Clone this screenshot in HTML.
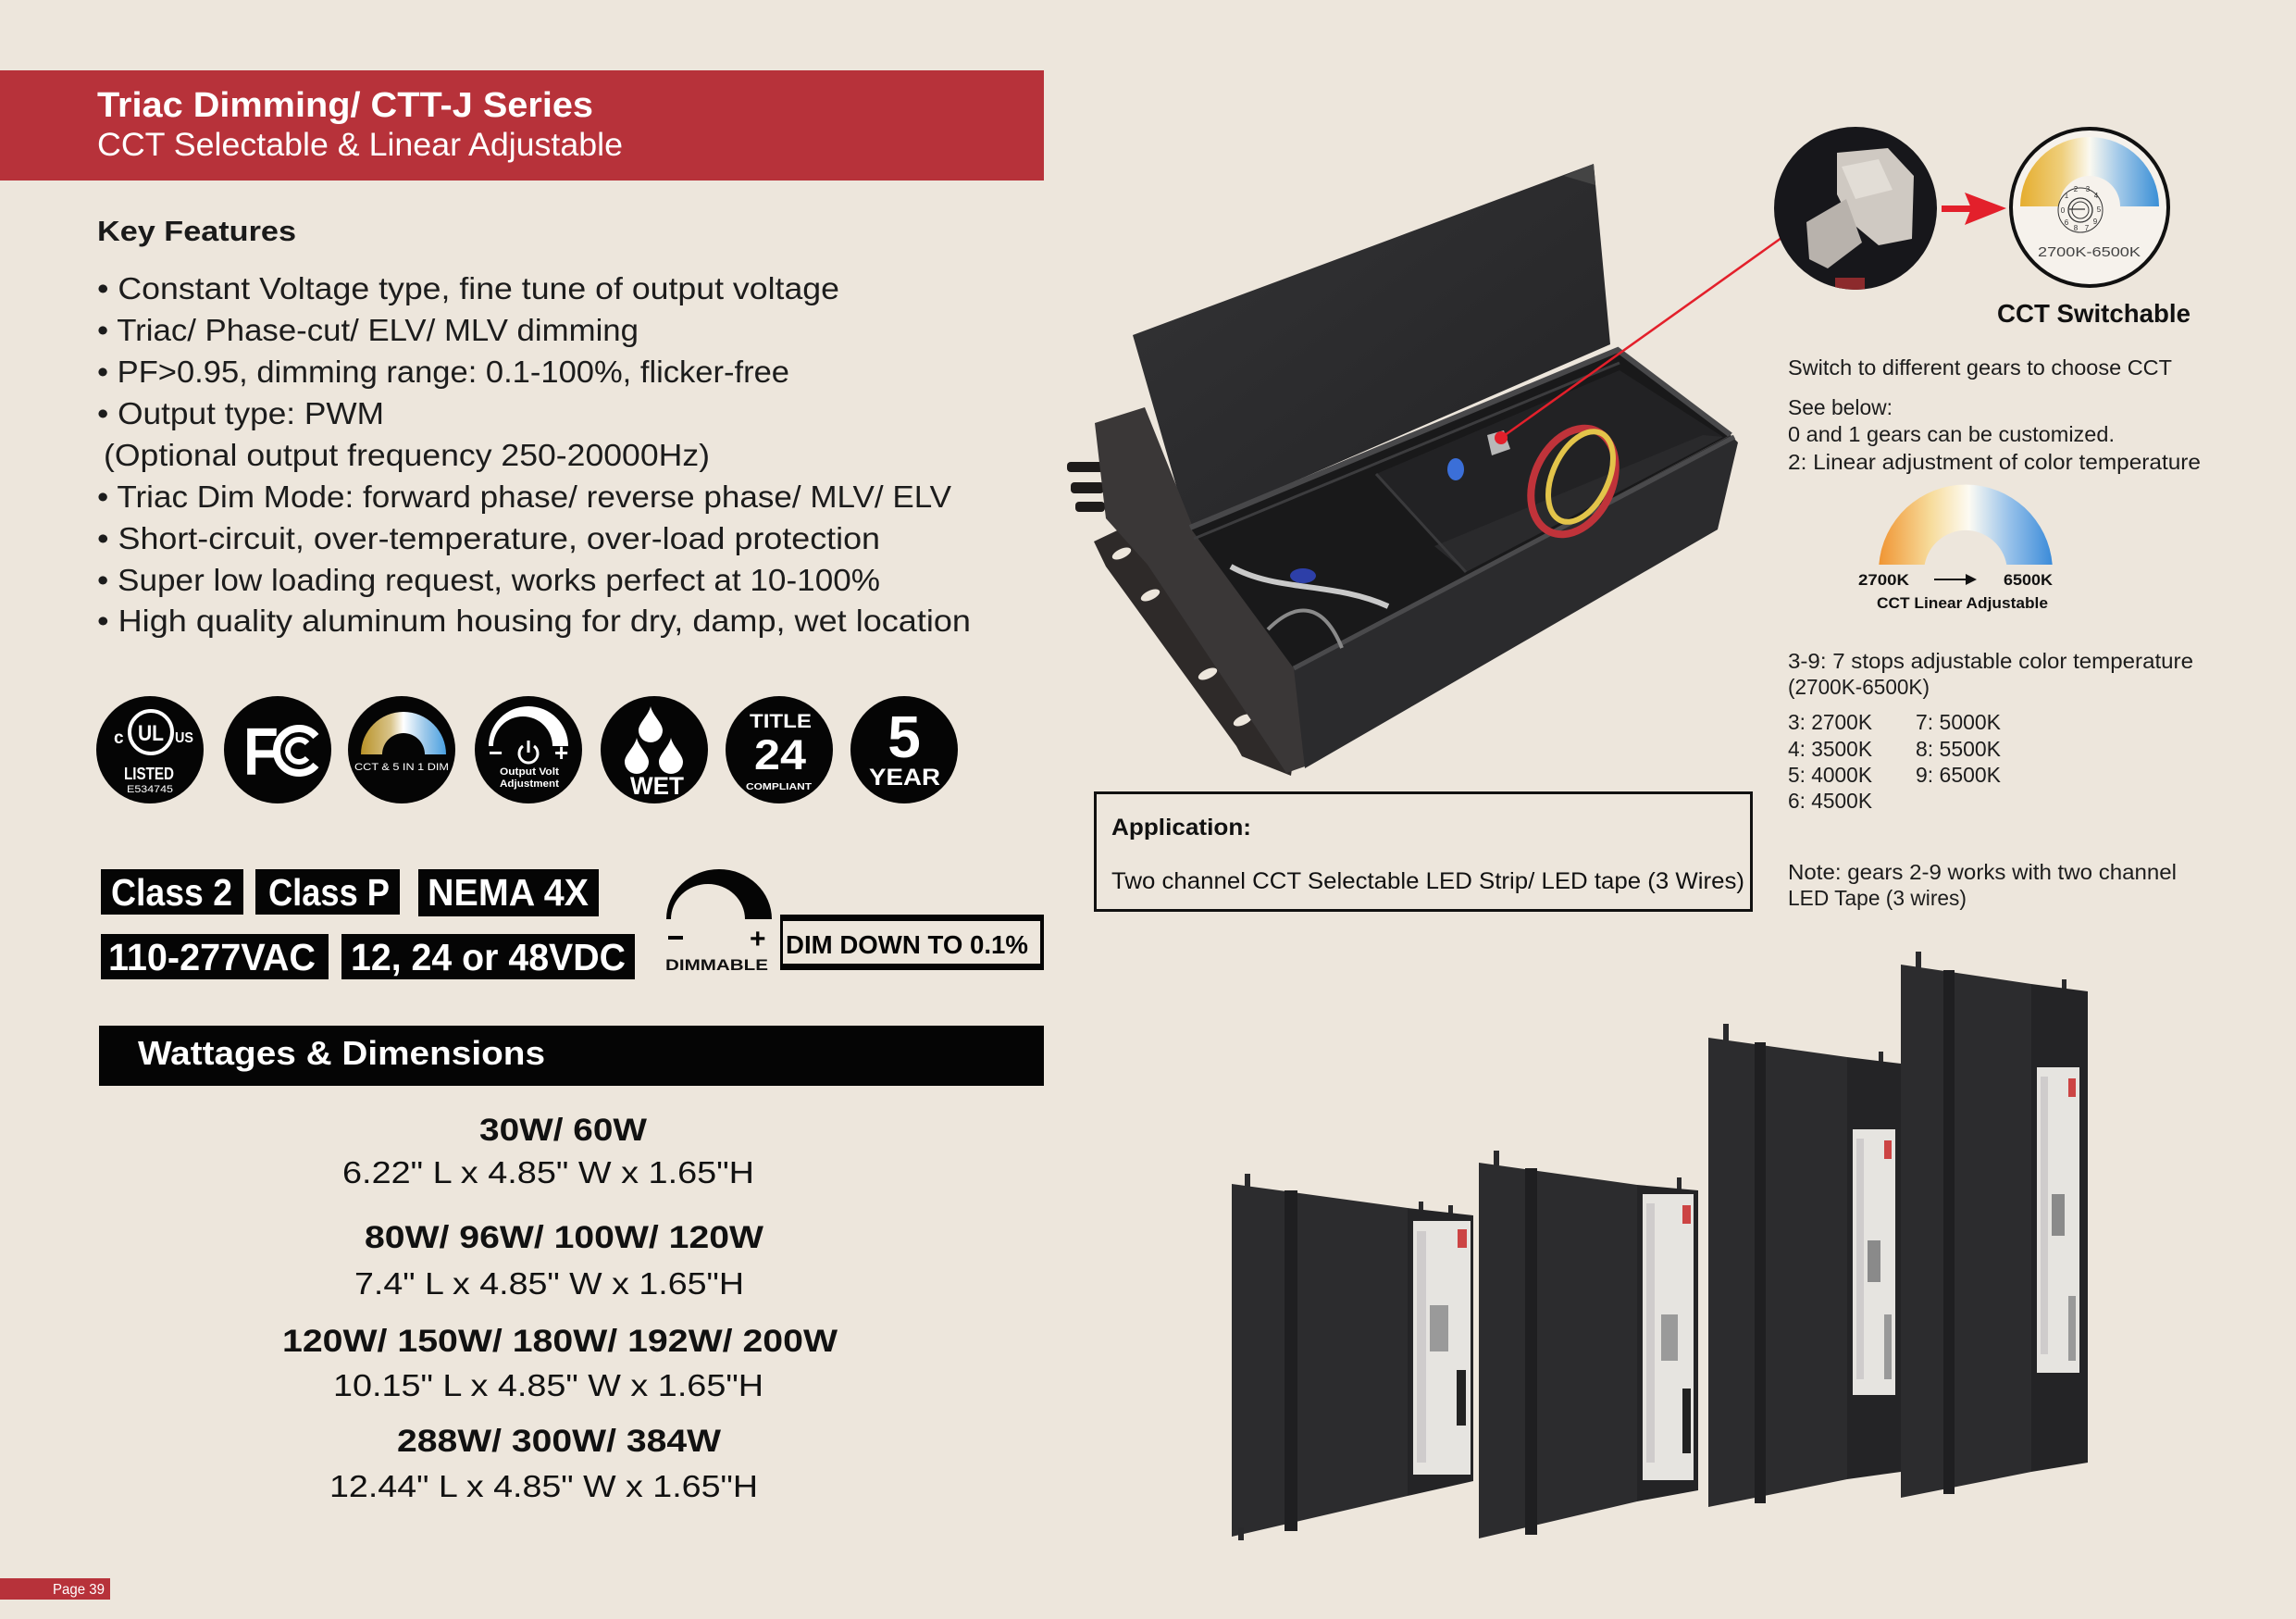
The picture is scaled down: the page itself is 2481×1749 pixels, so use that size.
<!DOCTYPE html>
<html><head><meta charset="utf-8"><style>
html,body{margin:0;padding:0;background:#ede6dc;}
svg{display:block}
text{font-family:"Liberation Sans",Arial,sans-serif;}
</style></head><body>
<svg width="2481" height="1749" viewBox="0 0 2481 1749" xmlns="http://www.w3.org/2000/svg">
<defs>
<linearGradient id="cctg" x1="0" x2="1" y1="0" y2="0">
 <stop offset="0" stop-color="#e5ad2e"/><stop offset="0.3" stop-color="#efcf7c"/><stop offset="0.5" stop-color="#fbf9f0"/><stop offset="0.7" stop-color="#a6cbe9"/><stop offset="1" stop-color="#3a8fd6"/>
</linearGradient>
<linearGradient id="cctg2" x1="0" x2="1" y1="0" y2="0">
 <stop offset="0" stop-color="#f09533"/><stop offset="0.3" stop-color="#f7dc9c"/><stop offset="0.52" stop-color="#fdfbf3"/><stop offset="0.75" stop-color="#98c2ea"/><stop offset="1" stop-color="#3b8bd9"/>
</linearGradient>
<linearGradient id="icong" x1="0" x2="1" y1="0" y2="0">
 <stop offset="0" stop-color="#b89228"/><stop offset="0.35" stop-color="#d9c48a"/><stop offset="0.5" stop-color="#ffffff"/><stop offset="0.75" stop-color="#9cc8ea"/><stop offset="1" stop-color="#4aa0e0"/>
</linearGradient>
<linearGradient id="lidg" x1="0" x2="1" y1="0" y2="1">
 <stop offset="0" stop-color="#343436"/><stop offset="1" stop-color="#232325"/>
</linearGradient>
<clipPath id="photoClip"><circle cx="2005" cy="225" r="88"/></clipPath>
</defs>
<rect width="2481" height="1749" fill="#ede6dc"/>

<!-- Header -->
<rect x="0" y="76" width="1128" height="119" fill="#b7323a"/>
<text x="105" y="126" font-size="38" font-weight="bold" fill="#fff" textLength="536" lengthAdjust="spacingAndGlyphs">Triac Dimming/ CTT-J Series</text>
<text x="105" y="168" font-size="35" fill="#fff" textLength="568" lengthAdjust="spacingAndGlyphs">CCT Selectable &amp; Linear Adjustable</text>

<!-- Key features -->
<text x="105" y="260" font-size="31" font-weight="bold" fill="#1a1a1a" textLength="215" lengthAdjust="spacingAndGlyphs">Key Features</text>
<g font-size="33" fill="#1c1c1c">
<text x="105" y="323" textLength="802" lengthAdjust="spacingAndGlyphs">• Constant Voltage type, fine tune of output voltage</text>
<text x="105" y="368" textLength="585" lengthAdjust="spacingAndGlyphs">• Triac/ Phase-cut/ ELV/ MLV dimming</text>
<text x="105" y="413" textLength="748" lengthAdjust="spacingAndGlyphs">• PF&gt;0.95, dimming range: 0.1-100%, flicker-free</text>
<text x="105" y="458" textLength="310" lengthAdjust="spacingAndGlyphs">• Output type: PWM</text>
<text x="112" y="503" textLength="655" lengthAdjust="spacingAndGlyphs">(Optional output frequency 250-20000Hz)</text>
<text x="105" y="548" textLength="923" lengthAdjust="spacingAndGlyphs">• Triac Dim Mode: forward phase/ reverse phase/ MLV/ ELV</text>
<text x="105" y="593" textLength="846" lengthAdjust="spacingAndGlyphs">• Short-circuit, over-temperature, over-load protection</text>
<text x="105" y="638" textLength="846" lengthAdjust="spacingAndGlyphs">• Super low loading request, works perfect at 10-100%</text>
<text x="105" y="682" textLength="944" lengthAdjust="spacingAndGlyphs">• High quality aluminum housing for dry, damp, wet location</text>
</g>

<!-- Icons -->
<g fill="#050505">
<circle cx="162" cy="810" r="58"/><circle cx="300" cy="810" r="58"/><circle cx="434" cy="810" r="58"/>
<circle cx="571" cy="810" r="58"/><circle cx="707" cy="810" r="58"/><circle cx="842" cy="810" r="58"/><circle cx="977" cy="810" r="58"/>
</g>
<!-- UL -->
<circle cx="163" cy="791" r="23" fill="none" stroke="#fff" stroke-width="4"/>
<text x="163" y="800" font-size="24" font-weight="bold" fill="#fff" text-anchor="middle" textLength="28" lengthAdjust="spacingAndGlyphs">UL</text>
<text x="123" y="803" font-size="19" font-weight="bold" fill="#fff">c</text>
<text x="189" y="802" font-size="16" font-weight="bold" fill="#fff" textLength="20" lengthAdjust="spacingAndGlyphs">US</text>
<text x="134" y="842" font-size="18" font-weight="bold" fill="#fff" textLength="54" lengthAdjust="spacingAndGlyphs">LISTED</text>
<text x="137" y="856" font-size="11" fill="#fff" textLength="50" lengthAdjust="spacingAndGlyphs">E534745</text>
<!-- FC -->
<text x="263" y="837" font-size="72" font-weight="bold" fill="#fff" textLength="38" lengthAdjust="spacingAndGlyphs">F</text>
<path d="M341.4,795.6 A24 24 0 1 0 341.4,826.4" fill="none" stroke="#fff" stroke-width="8"/>
<path d="M332,803 A12 12 0 1 0 332,819" fill="none" stroke="#fff" stroke-width="6"/>
<!-- CCT icon -->
<path d="M390,815 A46 46 0 0 1 482,815 L459,815 A23 23 0 0 0 413,815 Z" fill="url(#icong)"/>
<text x="383" y="832" font-size="11" fill="#fff" textLength="102" lengthAdjust="spacingAndGlyphs">CCT &amp; 5 IN 1 DIM</text>
<!-- Output volt -->
<path d="M528,806 A43 43 0 0 1 614,806 L597,806 A32 32 0 0 0 533,806 Z" fill="#fff"/>
<text x="528" y="822" font-size="26" font-weight="bold" fill="#fff">−</text>
<text x="599" y="822" font-size="26" font-weight="bold" fill="#fff">+</text>
<path d="M565,806 A10 10 0 1 0 577,806" fill="none" stroke="#fff" stroke-width="3"/>
<line x1="571" y1="800" x2="571" y2="813" stroke="#fff" stroke-width="3"/>
<text x="540" y="837" font-size="11" font-weight="bold" fill="#fff" textLength="64" lengthAdjust="spacingAndGlyphs">Output Volt</text>
<text x="540" y="850" font-size="11" font-weight="bold" fill="#fff" textLength="64" lengthAdjust="spacingAndGlyphs">Adjustment</text>
<!-- WET -->
<g fill="#fff">
<path d="M703,763 C705,773 716,781 716,789 A13 13 0 0 1 690,789 C690,781 701,773 703,763 Z"/>
<path d="M688,797 C690,807 701,815 701,823 A13 13 0 0 1 675,823 C675,815 686,807 688,797 Z"/>
<path d="M725,797 C727,807 738,815 738,823 A13 13 0 0 1 712,823 C712,815 723,807 725,797 Z"/>
</g>
<text x="681" y="858" font-size="27" font-weight="bold" fill="#fff" textLength="58" lengthAdjust="spacingAndGlyphs">WET</text>
<!-- Title 24 -->
<text x="810" y="786" font-size="21" font-weight="bold" fill="#fff" textLength="67" lengthAdjust="spacingAndGlyphs">TITLE</text>
<text x="815" y="831" font-size="45" font-weight="bold" fill="#fff" textLength="56" lengthAdjust="spacingAndGlyphs">24</text>
<text x="806" y="853" font-size="10" font-weight="bold" fill="#fff" textLength="71" lengthAdjust="spacingAndGlyphs">COMPLIANT</text>
<!-- 5 year -->
<text x="977" y="818" font-size="64" font-weight="bold" fill="#fff" text-anchor="middle">5</text>
<text x="939" y="848" font-size="25" font-weight="bold" fill="#fff" textLength="77" lengthAdjust="spacingAndGlyphs">YEAR</text>

<!-- Class boxes -->
<g fill="#050505">
<rect x="109" y="939" width="154" height="49"/>
<rect x="276" y="939" width="156" height="49"/>
<rect x="452" y="939" width="195" height="51"/>
<rect x="109" y="1009" width="246" height="49"/>
<rect x="369" y="1009" width="317" height="49"/>
</g>
<g font-size="41" font-weight="bold" fill="#fff">
<text x="120" y="978" textLength="131" lengthAdjust="spacingAndGlyphs">Class 2</text>
<text x="290" y="978" textLength="131" lengthAdjust="spacingAndGlyphs">Class P</text>
<text x="462" y="978" textLength="174" lengthAdjust="spacingAndGlyphs">NEMA 4X</text>
<text x="117" y="1048" textLength="224" lengthAdjust="spacingAndGlyphs">110-277VAC</text>
<text x="379" y="1048" textLength="297" lengthAdjust="spacingAndGlyphs">12, 24 or 48VDC</text>
</g>
<!-- dimmable -->
<path d="M720,993 A57 54 0 0 1 834,993 L805,993 A40 38 0 0 0 725,993 Z" fill="#050505"/>
<rect x="722" y="1011" width="16" height="4" fill="#050505"/>
<text x="810" y="1024" font-size="30" font-weight="bold" fill="#050505">+</text>
<text x="719" y="1048" font-size="17" font-weight="bold" fill="#111" textLength="111" lengthAdjust="spacingAndGlyphs">DIMMABLE</text>
<rect x="843" y="988" width="285" height="7" fill="#050505"/>
<rect x="843" y="1041" width="285" height="7" fill="#050505"/>
<rect x="1124" y="988" width="4" height="60" fill="#050505"/>
<rect x="843" y="988" width="3" height="60" fill="#050505"/>
<text x="849" y="1030" font-size="28" font-weight="bold" fill="#050505" textLength="262" lengthAdjust="spacingAndGlyphs">DIM DOWN TO 0.1%</text>

<!-- Wattages header -->
<rect x="107" y="1108" width="1021" height="65" fill="#050505"/>
<text x="149" y="1150" font-size="36" font-weight="bold" fill="#fff" textLength="440" lengthAdjust="spacingAndGlyphs">Wattages &amp; Dimensions</text>

<g fill="#111">
<text x="518" y="1232" font-size="34" font-weight="bold" textLength="181" lengthAdjust="spacingAndGlyphs">30W/ 60W</text>
<text x="370" y="1278" font-size="33" textLength="445" lengthAdjust="spacingAndGlyphs">6.22" L x 4.85" W x 1.65"H</text>
<text x="394" y="1348" font-size="34" font-weight="bold" textLength="431" lengthAdjust="spacingAndGlyphs">80W/ 96W/ 100W/ 120W</text>
<text x="383" y="1398" font-size="33" textLength="421" lengthAdjust="spacingAndGlyphs">7.4" L x 4.85" W x 1.65"H</text>
<text x="305" y="1460" font-size="34" font-weight="bold" textLength="600" lengthAdjust="spacingAndGlyphs">120W/ 150W/ 180W/ 192W/ 200W</text>
<text x="360" y="1508" font-size="33" textLength="465" lengthAdjust="spacingAndGlyphs">10.15" L x 4.85" W x 1.65"H</text>
<text x="429" y="1568" font-size="34" font-weight="bold" textLength="350" lengthAdjust="spacingAndGlyphs">288W/ 300W/ 384W</text>
<text x="356" y="1617" font-size="33" textLength="463" lengthAdjust="spacingAndGlyphs">12.44" L x 4.85" W x 1.65"H</text>
</g>

<!-- Page label -->
<rect x="0" y="1705" width="119" height="23" fill="#b7323a"/>
<text x="57" y="1722" font-size="16" fill="#fff" textLength="56" lengthAdjust="spacingAndGlyphs">Page 39</text>

<!-- Box photo -->
<g>
<g fill="#1e1b1a">
<rect x="1153" y="499" width="40" height="11" rx="4"/>
<rect x="1157" y="521" width="36" height="12" rx="4"/>
<rect x="1162" y="542" width="32" height="11" rx="4"/>
</g>
<polygon points="1182,585 1222,566 1400,800 1395,838 1342,817 1336,806 1195,612" fill="#2e2a29"/>
<g fill="#ede6dc">
<ellipse cx="1212" cy="598" rx="11" ry="5" transform="rotate(-25 1212 598)"/>
<ellipse cx="1243" cy="643" rx="11" ry="5" transform="rotate(-25 1243 643)"/>
<ellipse cx="1305" cy="728" rx="11" ry="5" transform="rotate(-25 1305 728)"/>
<ellipse cx="1343" cy="778" rx="11" ry="5" transform="rotate(-25 1343 778)"/>
</g>
<polygon points="1224,362 1722,177 1740,372 1284,570" fill="url(#lidg)"/>
<polygon points="1690,190 1722,177 1724,200" fill="#444"/>
<polygon points="1183,457 1237,440 1290,572 1400,722 1410,828 1390,835 1240,610 1195,560" fill="#3a3737"/>
<polygon points="1286,570 1748,378 1870,470 1398,722" fill="#19191a"/>
<polygon points="1487,512 1750,400 1862,472 1584,618" fill="#222224"/>
<polygon points="1550,590 1840,470 1862,472 1584,618" fill="#2a2a2c"/>
<line x1="1487" y1="512" x2="1584" y2="618" stroke="#3a3a3c" stroke-width="3"/>
<polyline points="1286,570 1748,378 1870,470" fill="none" stroke="#48484a" stroke-width="6"/>
<polyline points="1290,582 1750,392" fill="none" stroke="#3c3c3e" stroke-width="3"/>
<polygon points="1398,722 1870,470 1878,478 1856,572 1410,830" fill="#2b2b2d"/>
<line x1="1398" y1="722" x2="1874" y2="472" stroke="#4a4a4c" stroke-width="5"/>
<ellipse cx="1700" cy="520" rx="42" ry="60" transform="rotate(25 1700 520)" fill="none" stroke="#c0333a" stroke-width="8"/>
<ellipse cx="1708" cy="515" rx="30" ry="52" transform="rotate(25 1708 515)" fill="none" stroke="#e3c44a" stroke-width="6"/>
<path d="M1330,612 C1380,640 1440,628 1500,655" fill="none" stroke="#c9c9c9" stroke-width="6"/>
<path d="M1370,680 C1400,650 1430,650 1450,700" fill="none" stroke="#8a8a8a" stroke-width="4"/>
<ellipse cx="1408" cy="622" rx="14" ry="8" fill="#2d3fa8"/>
<ellipse cx="1573" cy="507" rx="9" ry="12" fill="#3b6fd8"/>
<polygon points="1607,470 1625,465 1632,485 1612,492" fill="#b8b8b8"/>
</g>
<line x1="1622" y1="473" x2="1925" y2="257" stroke="#e3202b" stroke-width="2.5"/>
<circle cx="1622" cy="473" r="7" fill="#e3202b"/>

<!-- photo circle -->
<circle cx="2005" cy="225" r="88" fill="#17171b"/>
<g clip-path="url(#photoClip)">
<polygon points="1985,165 2040,160 2068,190 2066,258 2030,265 2000,240 1985,210" fill="#cfc9c2"/>
<polygon points="1952,240 1995,215 2012,262 1975,290 1955,280" fill="#b8b2ac"/>
<polygon points="1990,180 2030,172 2045,205 2005,215" fill="#e2ddd6"/>
<rect x="1983" y="300" width="32" height="14" fill="#8c2a2c"/>
</g>
<rect x="2098" y="222" width="32" height="7" fill="#e3202b"/>
<polygon points="2123,208 2168,225 2123,243 2130,225" fill="#e3202b"/>

<!-- CCT switch circle -->
<circle cx="2258" cy="224" r="85" fill="#f6f2ec" stroke="#111" stroke-width="4"/>
<path d="M2183,223 A75 75 0 0 1 2333,223 L2291,223 A33 33 0 0 0 2225,223 Z" fill="url(#cctg)"/>
<circle cx="2248" cy="227" r="24" fill="#f6f2ec" stroke="#333" stroke-width="1"/>
<circle cx="2248" cy="227" r="13" fill="none" stroke="#333" stroke-width="1.3"/>
<circle cx="2248" cy="227" r="9" fill="none" stroke="#333" stroke-width="1"/>
<line x1="2236" y1="226" x2="2253" y2="226" stroke="#333" stroke-width="1.2"/>
<g font-size="8" fill="#333" text-anchor="middle">
<text x="2229" y="230">0</text><text x="2233" y="214">1</text><text x="2243" y="207">2</text><text x="2256" y="207">3</text>
<text x="2265" y="214">4</text><text x="2268" y="229">5</text><text x="2264" y="242">9</text><text x="2255" y="249">7</text><text x="2243" y="249">8</text><text x="2233" y="243">6</text>
</g>
<text x="2202" y="277" font-size="15" fill="#444" textLength="111" lengthAdjust="spacingAndGlyphs">2700K-6500K</text>
<text x="2158" y="348" font-size="28" font-weight="bold" fill="#111" textLength="209" lengthAdjust="spacingAndGlyphs">CCT Switchable</text>

<!-- right text -->
<g font-size="23" fill="#1c1c1c">
<text x="1932" y="405" textLength="415" lengthAdjust="spacingAndGlyphs">Switch to different gears to choose CCT</text>
<text x="1932" y="448" textLength="113" lengthAdjust="spacingAndGlyphs">See below:</text>
<text x="1932" y="477" textLength="353" lengthAdjust="spacingAndGlyphs">0 and 1 gears can be customized.</text>
<text x="1932" y="507" textLength="446" lengthAdjust="spacingAndGlyphs">2: Linear adjustment of color temperature</text>
<text x="1932" y="722" textLength="438" lengthAdjust="spacingAndGlyphs">3-9: 7 stops adjustable color temperature</text>
<text x="1932" y="750" textLength="153" lengthAdjust="spacingAndGlyphs">(2700K-6500K)</text>
<text x="1932" y="788" textLength="91" lengthAdjust="spacingAndGlyphs">3: 2700K</text>
<text x="2070" y="788" textLength="92" lengthAdjust="spacingAndGlyphs">7: 5000K</text>
<text x="1932" y="817" textLength="91" lengthAdjust="spacingAndGlyphs">4: 3500K</text>
<text x="2070" y="817" textLength="92" lengthAdjust="spacingAndGlyphs">8: 5500K</text>
<text x="1932" y="845" textLength="91" lengthAdjust="spacingAndGlyphs">5: 4000K</text>
<text x="2070" y="845" textLength="92" lengthAdjust="spacingAndGlyphs">9: 6500K</text>
<text x="1932" y="873" textLength="91" lengthAdjust="spacingAndGlyphs">6: 4500K</text>
<text x="1932" y="950" textLength="420" lengthAdjust="spacingAndGlyphs">Note: gears 2-9 works with two channel</text>
<text x="1932" y="978" textLength="193" lengthAdjust="spacingAndGlyphs">LED Tape (3 wires)</text>
</g>

<path d="M2030.3,610 A94 94 0 0 1 2217.7,610 L2168.3,610 A45 45 0 0 0 2079.7,610 Z" fill="url(#cctg2)"/>
<text x="2008" y="632" font-size="17" font-weight="bold" fill="#111" textLength="55" lengthAdjust="spacingAndGlyphs">2700K</text>
<line x1="2090" y1="626" x2="2126" y2="626" stroke="#111" stroke-width="2"/>
<polygon points="2124,620 2136,626 2124,632" fill="#111"/>
<text x="2165" y="632" font-size="17" font-weight="bold" fill="#111" textLength="53" lengthAdjust="spacingAndGlyphs">6500K</text>
<text x="2028" y="657" font-size="17" font-weight="bold" fill="#111" textLength="185" lengthAdjust="spacingAndGlyphs">CCT Linear Adjustable</text>

<!-- Application box -->
<rect x="1183.5" y="856.5" width="709" height="127" fill="none" stroke="#111" stroke-width="3"/>
<text x="1201" y="902" font-size="25" font-weight="bold" fill="#111" textLength="151" lengthAdjust="spacingAndGlyphs">Application:</text>
<text x="1201" y="960" font-size="25" fill="#111" textLength="684" lengthAdjust="spacingAndGlyphs">Two channel CCT Selectable LED Strip/ LED tape (3 Wires)</text>

<!-- Products -->
<g>
<rect x="1345" y="1268" width="6" height="14" fill="#2a2a2c"/><rect x="1533" y="1298" width="5" height="14" fill="#2a2a2c"/><rect x="1565" y="1302" width="5" height="14" fill="#2a2a2c"/>
<polygon points="1331,1279 1521,1305 1521,1616 1331,1660" fill="#2c2c2e"/>
<polygon points="1521,1305 1592,1313 1592,1600 1521,1616" fill="#242426"/>
<rect x="1388" y="1286" width="14" height="368" fill="#1f1f21"/>
<rect x="1527" y="1319" width="62" height="274" fill="#e6e4e0"/>
<rect x="1531" y="1330" width="10" height="250" fill="#cfcccc"/><rect x="1575" y="1328" width="10" height="20" fill="#c44"/>
<rect x="1574" y="1480" width="10" height="60" fill="#222"/><rect x="1545" y="1410" width="20" height="50" fill="#9a9a9a"/>
<rect x="1338" y="1650" width="6" height="14" fill="#2a2a2c"/>
</g>
<g>
<rect x="1614" y="1243" width="6" height="16" fill="#2a2a2c"/><rect x="1812" y="1272" width="5" height="14" fill="#2a2a2c"/>
<polygon points="1598,1256 1769,1280 1769,1622 1598,1662" fill="#2c2c2e"/>
<polygon points="1769,1280 1835,1286 1835,1610 1769,1622" fill="#242426"/>
<rect x="1648" y="1262" width="13" height="396" fill="#1f1f21"/>
<rect x="1775" y="1290" width="55" height="309" fill="#e6e4e0"/>
<rect x="1779" y="1300" width="9" height="280" fill="#cfcccc"/><rect x="1818" y="1302" width="9" height="20" fill="#c44"/>
<rect x="1818" y="1500" width="9" height="70" fill="#222"/><rect x="1795" y="1420" width="18" height="50" fill="#9a9a9a"/>
</g>
<g>
<rect x="1862" y="1106" width="6" height="18" fill="#2a2a2c"/><rect x="2030" y="1136" width="5" height="14" fill="#2a2a2c"/>
<polygon points="1846,1121 1996,1142 1996,1598 1846,1628" fill="#2c2c2e"/>
<polygon points="1996,1142 2054,1149 2054,1590 1996,1598" fill="#242426"/>
<rect x="1896" y="1126" width="12" height="498" fill="#1f1f21"/>
<rect x="2002" y="1220" width="46" height="287" fill="#e6e4e0"/>
<rect x="2006" y="1230" width="8" height="260" fill="#cfcccc"/><rect x="2036" y="1232" width="8" height="20" fill="#c44"/>
<rect x="2036" y="1420" width="8" height="70" fill="#999"/><rect x="2018" y="1340" width="14" height="45" fill="#8a8a8a"/>
</g>
<g>
<rect x="2070" y="1028" width="6" height="18" fill="#2a2a2c"/><rect x="2228" y="1058" width="5" height="14" fill="#2a2a2c"/>
<polygon points="2054,1042 2195,1063 2195,1590 2054,1618" fill="#2c2c2e"/>
<polygon points="2195,1063 2256,1071 2256,1580 2195,1590" fill="#242426"/>
<rect x="2100" y="1048" width="12" height="566" fill="#1f1f21"/>
<rect x="2201" y="1153" width="46" height="330" fill="#e6e4e0"/>
<rect x="2205" y="1163" width="8" height="300" fill="#cfcccc"/><rect x="2235" y="1165" width="8" height="20" fill="#c44"/>
<rect x="2235" y="1400" width="8" height="70" fill="#999"/><rect x="2217" y="1290" width="14" height="45" fill="#8a8a8a"/>
</g>
</svg>
</body></html>
